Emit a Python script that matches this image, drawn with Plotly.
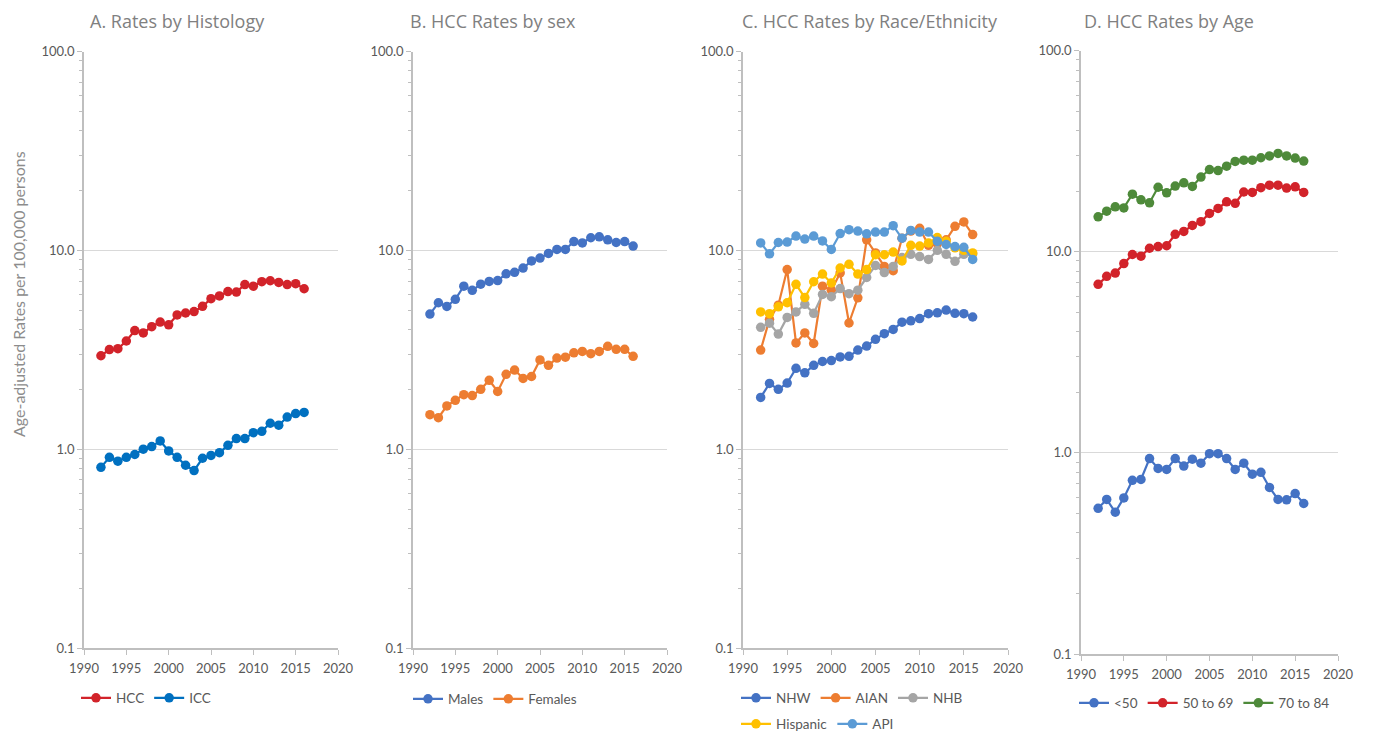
import plotly.graph_objects as go

W, H = 1373, 741
PAGE_OFFSET = 8  # default body margin of the html page

years = list(range(1992, 2017))

# Panel A: histology
hcc = [2.95, 3.17, 3.2, 3.5, 3.95, 3.84, 4.13, 4.36, 4.22, 4.73, 4.84, 4.92, 5.23,
       5.71, 5.9, 6.2, 6.17, 6.73, 6.6, 6.96, 7.03, 6.9, 6.73, 6.8, 6.41]
icc = [0.81, 0.91, 0.87, 0.91, 0.94, 1.0, 1.03, 1.10, 0.98, 0.91, 0.83, 0.78, 0.90,
       0.93, 0.96, 1.045, 1.13, 1.13, 1.21, 1.23, 1.35, 1.32, 1.45, 1.51, 1.53]

# Panel B: sex
males = [4.78, 5.45, 5.22, 5.67, 6.6, 6.29, 6.76, 6.98, 7.05, 7.62, 7.75, 8.14, 8.84,
         9.14, 9.65, 10.1, 10.1, 11.07, 10.9, 11.57, 11.7, 11.3, 10.95, 11.07, 10.5]
females = [1.49, 1.44, 1.65, 1.76, 1.88, 1.86, 2.0, 2.22, 1.95, 2.38, 2.5, 2.27, 2.32,
           2.81, 2.64, 2.87, 2.9, 3.05, 3.1, 3.02, 3.1, 3.29, 3.18, 3.18, 2.93]

# Panel C: race/ethnicity
nhw = [1.82, 2.14, 2.0, 2.15, 2.55, 2.42, 2.64, 2.76, 2.79, 2.91, 2.93, 3.15, 3.3,
       3.57, 3.81, 4.0, 4.35, 4.42, 4.54, 4.8, 4.85, 5.01, 4.82, 4.8, 4.62]
aian = [3.15, 4.5, 5.3, 8.0, 3.42, 3.84, 3.4, 6.6, 6.3, 7.7, 4.31, 5.77, 11.3,
        9.7, 8.3, 7.9, 11.5, 12.5, 12.9, 10.6, 10.8, 11.3, 13.2, 13.9, 12.0]
nhb = [4.1, 4.3, 3.79, 4.6, 4.9, 5.35, 4.82, 6.0, 5.85, 6.42, 6.05, 6.3, 7.3,
       8.39, 7.73, 8.3, 9.2, 9.55, 9.3, 9.0, 10.0, 9.55, 8.8, 9.55, 9.6]
hispanic = [4.9, 4.8, 5.2, 5.45, 6.75, 5.79, 6.95, 7.6, 6.85, 8.15, 8.5, 7.6, 8.0,
            9.5, 9.5, 9.8, 8.85, 10.6, 10.5, 10.9, 11.6, 11.1, 10.3, 10.0, 9.7]
api = [10.9, 9.6, 10.95, 11.0, 11.8, 11.4, 11.8, 11.15, 10.1, 12.15, 12.7, 12.5, 12.1,
       12.35, 12.35, 13.3, 11.5, 12.6, 12.35, 12.35, 11.1, 10.7, 10.45, 10.35, 9.0]

# Panel D: age
age_lt50 = [0.53, 0.587, 0.507, 0.597, 0.73, 0.738, 0.937, 0.836, 0.827, 0.937, 0.859,
            0.93, 0.888, 0.99, 0.99, 0.937, 0.827, 0.888, 0.783, 0.80, 0.673, 0.587,
            0.584, 0.627, 0.56]
age_50_69 = [6.88, 7.54, 7.83, 8.73, 9.68, 9.5, 10.4, 10.6, 10.7, 12.2, 12.6, 13.5, 14.1,
             15.5, 16.4, 17.7, 17.4, 19.8, 19.7, 20.8, 21.4, 21.4, 20.7, 21.0, 19.7]
age_70_84 = [14.9, 15.9, 16.7, 16.5, 19.3, 18.1, 17.5, 20.9, 19.6, 21.2, 22.0, 21.1, 23.5,
             25.6, 25.3, 26.6, 28.1, 28.5, 28.5, 29.3, 29.9, 30.8, 29.9, 29.2, 28.2]

titles = ["A. Rates by Histology", "B. HCC Rates by sex",
          "C. HCC Rates by Race/Ethnicity", "D. HCC Rates by Age"]
y_title = "Age-adjusted Rates per 100,000 persons"
x_ticks = [1990, 1995, 2000, 2005, 2010, 2015, 2020]
y_decades = [0.1, 1, 10]
y_minor = [d * k for d in y_decades for k in range(2, 10)]

# panel geometry in screen pixels: (left, right, top, bottom)
geom = [(84, 338, 51.5, 648), (413, 667, 51.5, 648),
        (743, 1008, 51.5, 648), (1081, 1338, 50.5, 654)]
title_cx = [177, 493, 870, 1169]

def fx(p):
    return (p - PAGE_OFFSET) / W

def fy(p):
    return 1 - (p - PAGE_OFFSET) / H

series = [
    # (panel, name, values, color, legend)
    (0, "HCC", hcc, "#D2232A", "legend"),
    (0, "ICC", icc, "#0070C0", "legend"),
    (1, "Males", males, "#4472C4", "legend2"),
    (1, "Females", females, "#ED7D31", "legend2"),
    (2, "NHW", nhw, "#4472C4", "legend3"),
    (2, "AIAN", aian, "#ED7D31", "legend3"),
    (2, "NHB", nhb, "#A5A5A5", "legend3"),
    (2, "Hispanic", hispanic, "#FFC000", "legend5"),
    (2, "API", api, "#5B9BD5", "legend5"),
    (3, "<50", age_lt50, "#4472C4", "legend4"),
    (3, "50 to 69", age_50_69, "#D2232A", "legend4"),
    (3, "70 to 84", age_70_84, "#4E8A3A", "legend4"),
]

fig = go.Figure()
for p, name, vals, col, leg in series:
    sfx = "" if p == 0 else str(p + 1)
    fig.add_trace(go.Scatter(
        x=years, y=vals, name=name, mode="lines+markers",
        line=dict(color=col, width=2.2),
        marker=dict(color=col, size=9.5),
        xaxis="x" + sfx, yaxis="y" + sfx, legend=leg,
    ))

axis_col = "#BFBFBF"
tick_font = dict(family="Lato", size=13, color="#595959")
layout = dict(
    width=W, height=H, margin=dict(l=0, r=0, t=0, b=0, autoexpand=False),
    paper_bgcolor="white", plot_bgcolor="white", showlegend=True,
)
annotations = []
for i, (l, r, t, b) in enumerate(geom):
    sfx = "" if i == 0 else str(i + 1)
    layout["xaxis" + sfx] = dict(
        domain=[fx(l), fx(r)], anchor="y" + sfx, range=[1990, 2020], automargin=False,
        tickmode="array", tickvals=x_ticks, showgrid=False, zeroline=False,
        showline=True, linecolor=axis_col, linewidth=1.5,
        ticks="outside", ticklen=5, tickcolor=axis_col, tickwidth=1,
        tickfont=tick_font, ticklabelstandoff=3,
    )
    layout["yaxis" + sfx] = dict(
        domain=[fy(b), fy(t)], anchor="x" + sfx, type="log", range=[-1, 2],
        automargin=False,
        dtick=1, tickformat=".1f", showgrid=True, gridcolor="#D9D9D9", gridwidth=1,
        showline=True, linecolor=axis_col, linewidth=1.5, zeroline=False,
        ticks="outside", ticklen=5, tickcolor=axis_col, tickwidth=1,
        minor=dict(tickmode="array", tickvals=y_minor, ticks="outside", ticklen=3,
                   tickcolor=axis_col, tickwidth=1, showgrid=False),
        tickfont=tick_font,
    )
    annotations.append(dict(
        text=titles[i], x=fx(title_cx[i]), y=1, xref="paper", yref="paper",
        xanchor="center", yanchor="top", showarrow=False, borderpad=0,
        font=dict(family="Open Sans", size=18, color="#808080"),
    ))

annotations.append(dict(
    text=y_title, x=fx(18), y=fy(294), xref="paper", yref="paper",
    xanchor="center", yanchor="middle", showarrow=False, textangle=-90,
    font=dict(family="Lato", size=16, color="#8C8C8C"),
))
layout["annotations"] = annotations

leg_font = dict(family="Lato", size=13.5, color="#595959")
def legend_at(xp, yp):
    return dict(orientation="h", x=fx(xp), y=fy(yp), xanchor="left", yanchor="middle",
                font=leg_font, bgcolor="rgba(0,0,0,0)", itemwidth=30,
                tracegroupgap=0, borderwidth=0)

layout["legend"] = legend_at(76, 698)
layout["legend2"] = legend_at(408, 699)
layout["legend3"] = legend_at(736, 698)
layout["legend5"] = legend_at(736, 724)
layout["legend4"] = legend_at(1074, 703)

fig.update_layout(**layout)
fig.write_html("out.html")
